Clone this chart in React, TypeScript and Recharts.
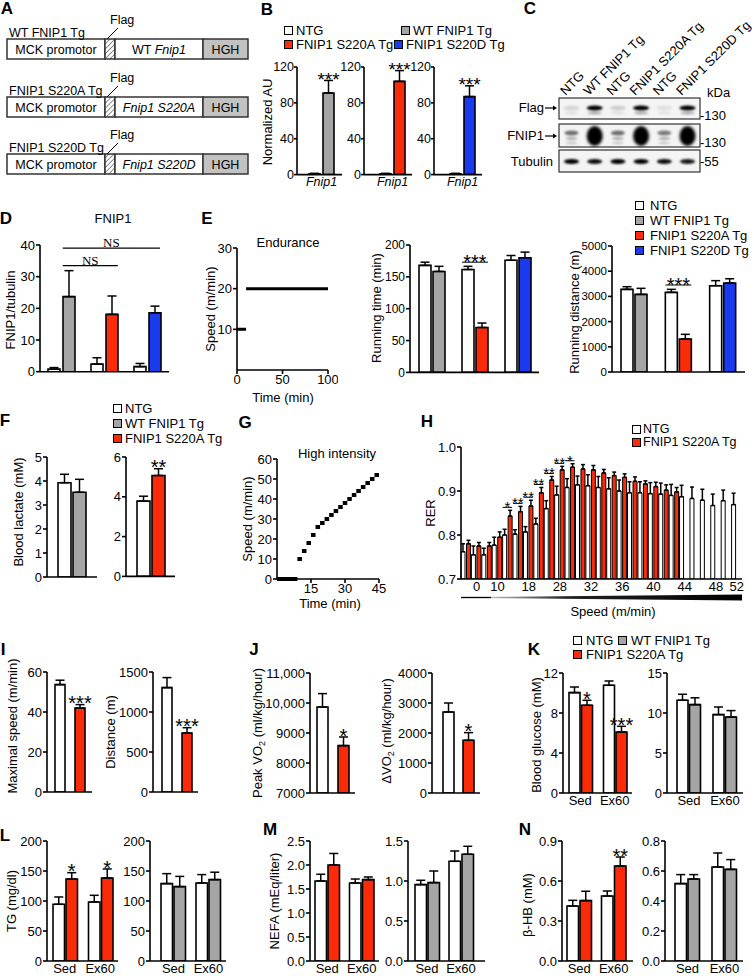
"use client"
import React from 'react'
import {
    BarChart,
    Bar,
    XAxis,
    YAxis,
    ErrorBar,
    Cell,
    LabelList,
    LineChart,
    Line,
    ReferenceLine
} from 'recharts'

const FONT = '"Liberation Sans", Arial, Helvetica, sans-serif'
const INK = '#000000'
const WHITE = '#ffffff'
const GRAY = '#a5a5a5'
const RED = '#fa2b08'
const BLUE = '#1a3af0'

// B - Fnip1 mRNA
const bNtg = [1, 1, 1]
const bNtgErr = [0.4, 0.4, 0.4]
const bTg = [91, 104, 87]
const bTgErr = [14, 12, 12]
const bTgColor = [GRAY, RED, BLUE]

// C - western blot lanes
const blotLanes = ['NTG', 'WT FNIP1 Tg', 'NTG', 'FNIP1 S220A Tg', 'NTG', 'FNIP1 S220D Tg']
const flagSignal = [0.12, 1, 0.15, 1, 0.08, 1]
const fnipSignal = [0.55, 1, 0.55, 1, 0.5, 1]
const tubSignal = [1, 0.95, 1, 1, 0.95, 0.9]

// D - FNIP1/tubulin
const dGroups = ['WT', 'S220A', 'S220D']
const dNtg = [0.8, 2.4, 1.6]
const dNtgErr = [0.5, 2.0, 1.0]
const dTg = [23.7, 18.1, 18.6]
const dTgErr = [8.2, 5.8, 2.1]
const dTgColor = [GRAY, RED, BLUE]
const dNsFrom = [0.53, 0.53]
const dNsTo = [2.79, 1.81]
const dNsAt = [39, 33.5]

// E - endurance
const enduranceStart = [0, 10]
const enduranceEnd = [10, 100]
const enduranceSpeed = [10, 20]
const eGroups = ['WT', 'S220A', 'S220D']
const eTgColor = [GRAY, RED, BLUE]
const eNtgTime = [168, 161.5, 176]
const eNtgTimeErr = [5, 5, 7.5]
const eTgTime = [158.5, 70.5, 180]
const eTgTimeErr = [8, 7, 8.8]
const eTimeStars = ['', '***', '']
const eTimeBar = [null, 173, null]
const eNtgDist = [3280, 3160, 3425]
const eNtgDistErr = [105, 120, 200]
const eTgDist = [3080, 1310, 3530]
const eTgDistErr = [240, 185, 170]
const eDistStars = ['', '***', '']
const eDistBar = [null, 3452, null]

// F - blood lactate
const fWtNtg = [3.93]
const fWtNtgErr = [0.35]
const fWt = [3.53]
const fWtErr = [0.54]
const fSaNtg = [3.78]
const fSaNtgErr = [0.25]
const fSa = [5.07]
const fSaErr = [0.34]

// G - high intensity protocol
const hiStart = [0, 9, 11, 13, 15, 17, 19, 21, 23, 25, 27, 29, 31, 33, 35, 37, 39, 41, 43]
const hiEnd = [9, 11, 13, 15, 17, 19, 21, 23, 25, 27, 29, 31, 33, 35, 37, 39, 41, 43, 45]
const hiSpeed = [0, 10, 14, 18, 22, 26, 28, 30, 32, 34, 36, 38, 40, 42, 44, 46, 48, 50, 52]

// H - RER
const hSpeedLabels = ['', '0', '', '10', '', '', '18', '', '', '28', '', '', '32', '', '', '36', '', '', '40', '', '', '44', '', '', '48', '', '52']
const hNtg = [0.762, 0.755, 0.755, 0.777, 0.8, 0.802, 0.807, 0.825, 0.86, 0.891, 0.908, 0.914, 0.912, 0.908, 0.905, 0.9, 0.896, 0.896, 0.894, 0.893, 0.89, 0.887, 0.883, 0.879, 0.867, 0.878, 0.869]
const hNtgErr = [0.018, 0.02, 0.015, 0.018, 0.013, 0.01, 0.012, 0.013, 0.018, 0.02, 0.02, 0.02, 0.025, 0.025, 0.025, 0.025, 0.025, 0.025, 0.025, 0.025, 0.025, 0.026, 0.026, 0.025, 0.026, 0.024, 0.026]
const hTg = [0.78, 0.775, 0.775, 0.795, 0.843, 0.853, 0.866, 0.896, 0.925, 0.948, 0.954, 0.95, 0.948, 0.941, 0.935, 0.931, 0.922, 0.916, 0.91, 0.902, 0.898, null, null, null, null, null, null]
const hTgErr = [0.008, 0.008, 0.008, 0.012, 0.013, 0.012, 0.013, 0.012, 0.008, 0.008, 0.008, 0.01, 0.01, 0.008, 0.008, 0.008, 0.01, 0.007, 0.01, 0.012, 0.01, 0, 0, 0, 0, 0, 0]
const hStars = ['', '', '', '', '*', '**', '**', '**', '**', '**', '*', '', '', '', '', '', '', '', '', '', '', '', '', '', '', '', '']

// I - maximal speed / distance
const iSpeed = [53.7, 42.0]
const iSpeedErr = [2.2, 1.7]
const iDist = [1305, 737]
const iDistErr = [125, 67]

// J - VO2
const jPeak = [9867, 8580]
const jPeakErr = [446, 287]
const jDelta = [2700, 1757]
const jDeltaErr = [300, 256]

// K-N - serum metabolites, sedentary vs 60 min exercise
const sedEx = ['Sed', 'Ex60']
const kSaNtg = [10.04, 10.77]
const kSaNtgErr = [0.56, 0.43]
const kSa = [8.77, 6.1]
const kSaErr = [0.5, 0.57]
const kSaStars = ['*', '***']
const kWtNtg = [11.6, 9.8]
const kWtNtgErr = [0.74, 0.95]
const kWt = [11.05, 9.5]
const kWtErr = [0.85, 0.8]

const lSaNtg = [94.5, 98.4]
const lSaNtgErr = [12.2, 11.1]
const lSa = [136.7, 138.4]
const lSaErr = [10.5, 15]
const lSaStars = ['*', '*']
const lWtNtg = [129, 130]
const lWtNtgErr = [16.6, 14]
const lWt = [124, 135.6]
const lWtErr = [17, 12.4]

const mSaNtg = [1.667, 1.625]
const mSaNtgErr = [0.14, 0.083]
const mSa = [2.0, 1.695]
const mSaErr = [0.24, 0.055]
const mWtNtg = [0.955, 1.246]
const mWtNtgErr = [0.054, 0.129]
const mWt = [0.98, 1.334]
const mWtErr = [0.145, 0.1]

const nSaNtg = [0.4125, 0.4875]
const nSaNtgErr = [0.0425, 0.0375]
const nSa = [0.453, 0.7125]
const nSaErr = [0.07, 0.0675]
const nSaStars = ['', '**']
const nWtNtg = [0.516, 0.627]
const nWtNtgErr = [0.06, 0.093]
const nWt = [0.547, 0.611]
const nWtErr = [0.029, 0.065]

interface Ser {
    key: string
    means: (number | null)[]
    errs: number[]
    fill: string | string[]
    stars?: string[]
    levels?: (number | null)[]
    line?: boolean
}

const sigContent = (s: Ser, lo: number, gap: number, fs: number) => (props: any) => {
    const i = props.index
    const txt = s.stars ? s.stars[i] : ''
    const m = s.means[i]
    if (!txt || m == null) return null
    const vb = props.viewBox && props.viewBox.width != null ? props.viewBox : props
    const { x, y, width, height } = vb
    if (!height) return null
    const ppu = height / (m - lo)
    const base = y + height
    const errTop = y - s.errs[i] * ppu
    if (s.line) {
        const lvl = s.levels ? s.levels[i] : null
        const ly = lvl != null ? base - (lvl - lo) * ppu : errTop - 3
        const xl = x - gap - width
        const xr = x + width
        return (
            <g key={`sig-${i}`}>
                <line x1={xl} x2={xr} y1={ly} y2={ly} stroke={INK} strokeWidth={1} />
                <text x={(xl + xr) / 2} y={ly + fs * 0.43 - 1.5} textAnchor="middle" fontSize={fs} fontFamily={FONT} fill={INK}>{txt}</text>
            </g>
        )
    }
    return (
        <text key={`sig-${i}`} x={x + width / 2} y={errTop + fs * 0.43 - 3} textAnchor="middle" fontSize={fs} fontFamily={FONT} fill={INK}>{txt}</text>
    )
}

interface BarPanelProps {
    ax: number
    x1: number
    yTop: number
    yBot: number
    lo?: number
    hi: number
    ticks: number[]
    fmt?: (v: number) => string
    cats: string[]
    series: Ser[]
    barSize: number
    barGap: number
    padL?: number
    padR?: number
    xLabels?: boolean
    italicX?: boolean
    xFmt?: (v: any, i: number) => string
    fs?: number
    starFs?: number
    errW?: number
    bsw?: number
    tsz?: number
    tmg?: number
    numAxis?: number
    children?: React.ReactNode
}

function BarPanel(p: BarPanelProps) {
    const lo = p.lo ?? 0
    const mt = 26
    const mr = 6
    const yw = 48
    const xh = p.xLabels ? 22 : 12
    const w = yw + (p.x1 - p.ax) + mr
    const h = mt + (p.yBot - p.yTop) + xh
    const fs = p.fs ?? 13
    const starFs = p.starFs ?? 20
    const data = p.cats.map((c, i) => {
        const row: Record<string, any> = { name: c, nx: i + 0.5 }
        p.series.forEach((s) => {
            row[s.key] = s.means[i]
            row[s.key + 'E'] = s.means[i] == null ? null : [0, s.errs[i]]
        })
        return row
    })
    return (
        <div style={{ position: 'absolute', left: p.ax - yw, top: p.yTop - mt }}>
            <BarChart width={w} height={h} data={data} margin={{ top: mt, right: mr, bottom: 0, left: 0 }} barSize={p.barSize} barGap={p.barGap}>
                <XAxis
                    dataKey="name"
                    height={xh}
                    interval={0}
                    axisLine={{ stroke: INK, strokeWidth: 1.6 }}
                    tickLine={false}
                    tickSize={0}
                    tickMargin={3}
                    tickFormatter={p.xFmt}
                    tick={p.xLabels ? { fontSize: fs, fill: INK, fontFamily: FONT, fontStyle: p.italicX ? 'italic' : 'normal' } : false}
                    padding={{ left: p.padL ?? 0, right: p.padR ?? 0 }}
                />
                {p.numAxis ? <XAxis xAxisId="n" type="number" dataKey="nx" domain={[0, p.numAxis]} hide allowDataOverflow /> : null}
                <YAxis
                    width={yw}
                    domain={[lo, p.hi]}
                    ticks={p.ticks}
                    interval={0}
                    allowDataOverflow
                    tickFormatter={p.fmt}
                    axisLine={{ stroke: INK, strokeWidth: 1.6 }}
                    tickLine={{ stroke: INK, strokeWidth: 1.6 }}
                    tickSize={p.tsz ?? 4}
                    tickMargin={p.tmg ?? 1}
                    tick={{ fontSize: fs, fill: INK, fontFamily: FONT }}
                />
                {p.series.map((s) => (
                    <Bar
                        key={s.key}
                        dataKey={s.key}
                        fill={Array.isArray(s.fill) ? s.fill[0] : s.fill}
                        stroke={INK}
                        strokeWidth={p.bsw ?? 1.6}
                        isAnimationActive={false}
                    >
                        {Array.isArray(s.fill) ? s.fill.map((c, i) => <Cell key={i} fill={c} />) : null}
                        <ErrorBar dataKey={s.key + 'E'} width={p.errW ?? 4.5} strokeWidth={1.5} stroke={INK} direction="y" />
                        {s.stars ? <LabelList dataKey={s.key} content={sigContent(s, lo, p.barGap, starFs)} /> : null}
                    </Bar>
                ))}
                {p.children}
            </BarChart>
        </div>
    )
}

interface StepPanelProps {
    ax: number
    x1: number
    yTop: number
    yBot: number
    xMax: number
    xTicks: number[]
    yMax: number
    yTicks: number[]
    starts: number[]
    ends: number[]
    speeds: number[]
    sw: number
    fs?: number
}

function StepPanel(p: StepPanelProps) {
    const mt = 10
    const mr = 10
    const yw = 40
    const xh = 22
    const fs = p.fs ?? 13
    const data: { t: number; v: number | null }[] = []
    p.speeds.forEach((v, i) => {
        data.push({ t: p.starts[i], v })
        data.push({ t: p.ends[i], v })
        data.push({ t: p.ends[i], v: null })
    })
    return (
        <div style={{ position: 'absolute', left: p.ax - yw, top: p.yTop - mt }}>
            <LineChart width={yw + (p.x1 - p.ax) + mr} height={mt + (p.yBot - p.yTop) + xh} data={data} margin={{ top: mt, right: mr, bottom: 0, left: 0 }}>
                <XAxis
                    type="number"
                    dataKey="t"
                    domain={[0, p.xMax]}
                    ticks={p.xTicks}
                    interval={0}
                    height={xh}
                    axisLine={{ stroke: INK, strokeWidth: 1.6 }}
                    tickLine={{ stroke: INK, strokeWidth: 1.6 }}
                    tickSize={4}
                    tickMargin={1}
                    tick={{ fontSize: fs, fill: INK, fontFamily: FONT }}
                />
                <YAxis
                    width={yw}
                    domain={[0, p.yMax]}
                    ticks={p.yTicks}
                    interval={0}
                    axisLine={{ stroke: INK, strokeWidth: 1.6 }}
                    tickLine={{ stroke: INK, strokeWidth: 1.6 }}
                    tickSize={4}
                    tickMargin={1}
                    tick={{ fontSize: fs, fill: INK, fontFamily: FONT }}
                />
                <Line dataKey="v" stroke={INK} strokeWidth={p.sw} dot={false} activeDot={false} connectNulls={false} isAnimationActive={false} />
            </LineChart>
        </div>
    )
}

function T({ x, y, children, size = 13, anchor = 'start', bold = false, italic = false }: any) {
    const tx = anchor === 'middle' ? '-50%' : anchor === 'end' ? '-100%' : '0'
    return (
        <div
            style={{
                position: 'absolute',
                left: x,
                top: y,
                transform: `translate(${tx},-50%)`,
                fontSize: size,
                lineHeight: 1,
                whiteSpace: 'nowrap',
                fontWeight: bold ? 700 : 400,
                fontStyle: italic ? 'italic' : 'normal'
            }}
        >
            {children}
        </div>
    )
}

function VL({ x, y, children, size = 13 }: any) {
    return (
        <div
            style={{
                position: 'absolute',
                left: x,
                top: y,
                transform: 'translate(-50%,-50%) rotate(-90deg)',
                fontSize: size,
                lineHeight: 1,
                whiteSpace: 'nowrap'
            }}
        >
            {children}
        </div>
    )
}

function Key({ x, y, color, label, gap = 12, size = 13 }: any) {
    return (
        <>
            <div style={{ position: 'absolute', left: x, top: y - 4.5, width: 7, height: 7, background: color, border: '1px solid #000' }} />
            <T x={x + gap} y={y} size={size}>{label}</T>
        </>
    )
}

const constructs = [
    { tg: 'WT FNIP1 Tg', pre: 'WT ', gene: 'Fnip1' },
    { tg: 'FNIP1 S220A Tg', pre: '', gene: 'Fnip1 S220A' },
    { tg: 'FNIP1 S220D Tg', pre: '', gene: 'Fnip1 S220D' }
]
const constructTop = [39, 97, 154]

function Overlay() {
    const laneX = (i: number) => 571.5 + 23.2 * i
    return (
        <svg width={754} height={976} style={{ position: 'absolute', left: 0, top: 0 }} fontFamily={FONT}>
            <defs>
                <pattern id="hatch" patternUnits="userSpaceOnUse" width={3.5} height={3.5} patternTransform="rotate(45)">
                    <rect width={3.5} height={3.5} fill="#fff" />
                    <line x1={0} y1={0} x2={0} y2={3.5} stroke="#777" strokeWidth={1.6} />
                </pattern>
                <filter id="blur1" x="-50%" y="-50%" width="200%" height="200%">
                    <feGaussianBlur stdDeviation={0.9} />
                </filter>
                <filter id="blur2" x="-50%" y="-50%" width="200%" height="200%">
                    <feGaussianBlur stdDeviation={1.4} />
                </filter>
                <linearGradient id="ramp" x1="0" x2="1" y1="0" y2="0">
                    <stop offset="0" stopColor="#bbb" />
                    <stop offset="0.3" stopColor="#222" />
                    <stop offset="1" stopColor="#000" />
                </linearGradient>
            </defs>

            {/* A: constructs */}
            {constructs.map((c, i) => {
                const t = constructTop[i]
                return (
                    <g key={i}>
                        <rect x={7} y={t} width={98} height={20} fill="#fff" stroke="#333" strokeWidth={1.5} />
                        <rect x={105} y={t} width={10} height={20} fill="url(#hatch)" stroke="#333" strokeWidth={1.5} />
                        <rect x={115} y={t} width={88} height={20} fill="#fff" stroke="#333" strokeWidth={1.5} />
                        <rect x={203} y={t} width={45} height={20} fill="#c2c2c2" stroke="#333" strokeWidth={1.5} />
                        <text x={56} y={t + 14.5} textAnchor="middle" fontSize={12.5}>MCK promotor</text>
                        <text x={159} y={t + 14.5} textAnchor="middle" fontSize={12.5}>
                            {c.pre}
                            <tspan fontStyle="italic">{c.gene}</tspan>
                        </text>
                        <text x={225.5} y={t + 14.5} textAnchor="middle" fontSize={12.5}>HGH</text>
                        <text x={9} y={t - 2} fontSize={12.5}>{c.tg}</text>
                        <line x1={107} y1={t} x2={118} y2={t - 11} stroke="#000" strokeWidth={1} />
                        <text x={110} y={t - 15} fontSize={12.5}>Flag</text>
                    </g>
                )
            })}

            {/* C: western blot */}
            {blotLanes.map((lab, i) => (
                <text key={lab + i} x={laneX(i) - 6} y={96} fontSize={13} transform={`rotate(-45 ${laneX(i) - 6} 96)`}>{lab}</text>
            ))}
            <rect x={559} y={98} width={141} height={21} fill="#f4f4f4" stroke="#333" strokeWidth={1.2} />
            <rect x={559} y={124} width={141} height={23} fill="#f4f4f4" stroke="#333" strokeWidth={1.2} />
            <rect x={559} y={150} width={141} height={22} fill="#f4f4f4" stroke="#333" strokeWidth={1.2} />
            {blotLanes.map((_, i) => {
                const cx = laneX(i)
                const strong = fnipSignal[i] > 0.9
                return (
                    <g key={'band' + i}>
                        <ellipse cx={cx} cy={108} rx={8} ry={2.6} fill="#000" opacity={flagSignal[i]} filter="url(#blur1)" />
                        <ellipse cx={cx} cy={113} rx={7} ry={1.4} fill="#000" opacity={0.25 * flagSignal[i] + 0.05} filter="url(#blur1)" />
                        {strong ? (
                            <ellipse cx={cx} cy={136} rx={8} ry={10} fill="#000" filter="url(#blur2)" />
                        ) : (
                            <>
                                <ellipse cx={cx} cy={133} rx={7} ry={2.4} fill="#000" opacity={fnipSignal[i]} filter="url(#blur1)" />
                                <ellipse cx={cx} cy={138.5} rx={6} ry={1.4} fill="#000" opacity={0.3} filter="url(#blur1)" />
                                <ellipse cx={cx} cy={143} rx={6} ry={1.2} fill="#000" opacity={0.2} filter="url(#blur1)" />
                            </>
                        )}
                        <ellipse cx={cx} cy={161.5} rx={7.5} ry={2.6} fill="#000" opacity={tubSignal[i]} filter="url(#blur1)" />
                    </g>
                )
            })}
            <text x={544} y={112} fontSize={13} textAnchor="end">Flag</text>
            <line x1={545} x2={553} y1={108} y2={108} stroke="#000" strokeWidth={1.2} />
            <polygon points="553,105.5 557,108 553,110.5" fill="#000" />
            <text x={544} y={140} fontSize={13} textAnchor="end">FNIP1</text>
            <line x1={545} x2={553} y1={136} y2={136} stroke="#000" strokeWidth={1.2} />
            <polygon points="553,133.5 557,136 553,138.5" fill="#000" />
            <text x={553} y={166} fontSize={13} textAnchor="end">Tubulin</text>
            <text x={707} y={97} fontSize={13}>kDa</text>
            <text x={700} y={120} fontSize={13}>-130</text>
            <text x={700} y={147} fontSize={13}>-130</text>
            <text x={700} y={166} fontSize={13}>-55</text>

            {/* H: speed ramp under the axis */}
            <line x1={461} x2={491} y1={597.5} y2={597.5} stroke="#000" strokeWidth={1.3} />
            <polygon points="491,596.8 742,594.5 742,600.5 491,598.2" fill="url(#ramp)" />
        </svg>
    )
}

const mk = (key: string, means: (number | null)[], errs: number[], fill: string | string[], extra: Partial<Ser> = {}): Ser => ({ key, means, errs, fill, ...extra })

const fmt1 = (v: number) => v.toFixed(1)
const fmtK = (v: number) => (v >= 10000 ? v.toLocaleString('en-US') : String(v))

export default function App() {
    return (
        <div style={{ position: 'absolute', left: 0, top: 0, width: 754, height: 976, background: '#fff', fontFamily: FONT, color: '#000', overflow: 'hidden' }}>
            <Overlay />

            {/* panel letters */}
            <T x={7} y={8} size={17} bold anchor="middle">A</T>
            <T x={267} y={9} size={17} bold anchor="middle">B</T>
            <T x={530} y={8} size={17} bold anchor="middle">C</T>
            <T x={6} y={218} size={17} bold anchor="middle">D</T>
            <T x={207} y={218} size={17} bold anchor="middle">E</T>
            <T x={5} y={420} size={17} bold anchor="middle">F</T>
            <T x={245} y={422} size={17} bold anchor="middle">G</T>
            <T x={427} y={421} size={17} bold anchor="middle">H</T>
            <T x={3} y={649} size={17} bold anchor="middle">I</T>
            <T x={254} y={649} size={17} bold anchor="middle">J</T>
            <T x={534} y={649} size={17} bold anchor="middle">K</T>
            <T x={5} y={835} size={17} bold anchor="middle">L</T>
            <T x={270} y={829} size={17} bold anchor="middle">M</T>
            <T x={525} y={829} size={17} bold anchor="middle">N</T>

            {/* B */}
            <Key x={284} y={30} color={WHITE} label="NTG" />
            <Key x={401} y={30} color={GRAY} label="WT FNIP1 Tg" />
            <Key x={284} y={44} color={RED} label="FNIP1 S220A Tg" />
            <Key x={394} y={44} color={BLUE} label="FNIP1 S220D Tg" />
            <VL x={267} y={122}>Normalized AU</VL>
            {[0, 1, 2].map((i) => (
                <BarPanel
                    key={'b' + i}
                    ax={[297, 364, 434][i]}
                    x1={[342, 412, 482][i]}
                    padL={[4, 9, 9][i]}
                    yTop={66.7}
                    yBot={174.3}
                    hi={120}
                    ticks={[0, 40, 80, 120]}
                    fs={12.5}
                    tsz={3}
                    tmg={0}
                    starFs={19}
                    cats={['Fnip1']}
                    barSize={11}
                    barGap={3}
                    xLabels
                    italicX
                    series={[
                        mk('ntg', [bNtg[i]], [bNtgErr[i]], WHITE),
                        mk('tg', [bTg[i]], [bTgErr[i]], bTgColor[i], { stars: ['***'] })
                    ]}
                />
            ))}

            {/* D */}
            <T x={113} y={218} anchor="middle">FNIP1</T>
            <VL x={10} y={310}>FNIP1/tubulin</VL>
            <BarPanel
                ax={40}
                x1={169}
                yTop={245}
                yBot={371.7}
                hi={40}
                ticks={[0, 10, 20, 30, 40]}
                cats={dGroups}
                barSize={12}
                barGap={3}
                numAxis={3}
                series={[mk('ntg', dNtg, dNtgErr, WHITE), mk('tg', dTg, dTgErr, dTgColor)]}
            >
                {dNsAt.map((yv, i) => (
                    <ReferenceLine
                        key={'ns' + i}
                        xAxisId="n"
                        segment={[{ x: dNsFrom[i], y: yv }, { x: dNsTo[i], y: yv }]}
                        stroke={INK}
                        strokeWidth={1.2}
                        ifOverflow="visible"
                        label={{ value: 'NS', position: 'top', fill: INK, fontSize: 13, fontFamily: '"Liberation Serif", serif', offset: 1 }}
                    />
                ))}
            </BarPanel>

            {/* E */}
            <T x={288} y={242} anchor="middle">Endurance</T>
            <VL x={210} y={309}>Speed (m/min)</VL>
            <StepPanel ax={237} x1={328} yTop={248} yBot={370} xMax={100} xTicks={[0, 50, 100]} yMax={30} yTicks={[10, 20, 30]} starts={enduranceStart} ends={enduranceEnd} speeds={enduranceSpeed} sw={3} />
            <T x={283} y={397} anchor="middle">Time (min)</T>
            <VL x={376} y={308}>Running time (min)</VL>
            <BarPanel
                ax={410}
                x1={539}
                yTop={245}
                yBot={372.4}
                hi={200}
                ticks={[0, 50, 100, 150, 200]}
                fs={12}
                cats={eGroups}
                barSize={12}
                barGap={2}
                series={[
                    mk('ntg', eNtgTime, eNtgTimeErr, WHITE),
                    mk('tg', eTgTime, eTgTimeErr, eTgColor, { stars: eTimeStars, levels: eTimeBar, line: true })
                ]}
            />
            <VL x={574} y={312}>Running distance (m)</VL>
            <BarPanel
                ax={612}
                x1={745}
                yTop={246}
                yBot={372}
                hi={5000}
                ticks={[0, 1000, 2000, 3000, 4000, 5000]}
                fs={11.5}
                cats={eGroups}
                barSize={12}
                barGap={2}
                series={[
                    mk('ntg', eNtgDist, eNtgDistErr, WHITE),
                    mk('tg', eTgDist, eTgDistErr, eTgColor, { stars: eDistStars, levels: eDistBar, line: true })
                ]}
            />
            <Key x={635} y={205} color={WHITE} label="NTG" gap={15} />
            <Key x={635} y={220} color={GRAY} label="WT FNIP1 Tg" gap={15} />
            <Key x={635} y={235} color={RED} label="FNIP1 S220A Tg" gap={15} />
            <Key x={635} y={250} color={BLUE} label="FNIP1 S220D Tg" gap={15} />

            {/* F */}
            <Key x={113} y={408} color={WHITE} label="NTG" />
            <Key x={113} y={423} color={GRAY} label="WT FNIP1 Tg" />
            <Key x={113} y={438} color={RED} label="FNIP1 S220A Tg" />
            <VL x={18} y={512}>Blood lactate (mM)</VL>
            <BarPanel
                ax={47}
                x1={97}
                yTop={457}
                yBot={577}
                hi={5}
                ticks={[0, 1, 2, 3, 4, 5]}
                cats={['lactate']}
                barSize={13}
                barGap={2}
                series={[mk('ntg', fWtNtg, fWtNtgErr, WHITE), mk('tg', fWt, fWtErr, GRAY)]}
            />
            <BarPanel
                ax={126}
                x1={175}
                yTop={457.3}
                yBot={576.7}
                hi={6}
                ticks={[0, 2, 4, 6]}
                cats={['lactate']}
                barSize={13}
                barGap={2}
                series={[mk('ntg', fSaNtg, fSaNtgErr, WHITE), mk('tg', fSa, fSaErr, RED, { stars: ['**'] })]}
            />

            {/* G */}
            <T x={337} y={453} anchor="middle">High intensity</T>
            <VL x={247} y={519}>Speed (m/min)</VL>
            <StepPanel ax={277} x1={379} yTop={459} yBot={579} xMax={45} xTicks={[15, 30, 45]} yMax={60} yTicks={[0, 10, 20, 30, 40, 50, 60]} starts={hiStart} ends={hiEnd} speeds={hiSpeed} sw={4} />
            <T x={330} y={603} anchor="middle">Time (min)</T>

            {/* H */}
            <Key x={632} y={429} color={WHITE} label="NTG" gap={11} size={12.5} />
            <Key x={632} y={442} color={RED} label="FNIP1 S220A Tg" gap={11} size={12.5} />
            <VL x={430} y={513}>RER</VL>
            <BarPanel
                ax={461}
                x1={742}
                yTop={447.3}
                yBot={579.3}
                lo={0.7}
                hi={1.0}
                ticks={[0.7, 0.8, 0.9, 1.0]}
                fmt={fmt1}
                cats={hNtg.map((_, i) => String(i))}
                xLabels
                xFmt={(_v: any, i: number) => hSpeedLabels[i]}
                barSize={4}
                barGap={1.5}
                bsw={1}
                errW={2}
                starFs={15}
                series={[
                    mk('ntg', hNtg, hNtgErr, WHITE),
                    mk('tg', hTg, hTgErr, RED, { stars: hStars, line: true })
                ]}
            />
            <T x={613} y={611} anchor="middle">Speed (m/min)</T>

            {/* I */}
            <VL x={12} y={726}>Maximal speed (m/min)</VL>
            <BarPanel
                ax={47}
                x1={92}
                yTop={671.7}
                yBot={791.7}
                hi={60}
                ticks={[0, 20, 40, 60]}
                cats={['speed']}
                barSize={10}
                barGap={10}
                series={[mk('ntg', [iSpeed[0]], [iSpeedErr[0]], WHITE), mk('tg', [iSpeed[1]], [iSpeedErr[1]], RED, { stars: ['***'] })]}
            />
            <VL x={110} y={732}>Distance (m)</VL>
            <BarPanel
                ax={153}
                x1={198}
                padL={2}
                yTop={671.7}
                yBot={791.7}
                hi={1500}
                ticks={[0, 500, 1000, 1500]}
                cats={['distance']}
                barSize={10}
                barGap={10}
                series={[mk('ntg', [iDist[0]], [iDistErr[0]], WHITE), mk('tg', [iDist[1]], [iDistErr[1]], RED, { stars: ['***'] })]}
            />

            {/* J */}
            <VL x={259} y={733}>Peak VO<sub style={{ fontSize: 9 }}>2</sub> (ml/kg/hour)</VL>
            <BarPanel
                ax={310}
                x1={355}
                yTop={672.7}
                yBot={792.7}
                lo={7000}
                hi={11000}
                ticks={[7000, 8000, 9000, 10000, 11000]}
                fmt={fmtK}
                cats={['peak']}
                barSize={11}
                barGap={10}
                series={[mk('ntg', [jPeak[0]], [jPeakErr[0]], WHITE), mk('tg', [jPeak[1]], [jPeakErr[1]], RED, { stars: ['*'] })]}
            />
            <VL x={388} y={731}>ΔVO<sub style={{ fontSize: 9 }}>2</sub> (ml/kg/hour)</VL>
            <BarPanel
                ax={432}
                x1={480}
                padL={4}
                yTop={672.7}
                yBot={792.7}
                hi={4000}
                ticks={[0, 1000, 2000, 3000, 4000]}
                cats={['delta']}
                barSize={11}
                barGap={9}
                series={[mk('ntg', [jDelta[0]], [jDeltaErr[0]], WHITE), mk('tg', [jDelta[1]], [jDeltaErr[1]], RED, { stars: ['*'] })]}
            />

            {/* K */}
            <Key x={573} y={640} color={WHITE} label="NTG" gap={13} />
            <Key x={618} y={640} color={GRAY} label="WT FNIP1 Tg" gap={13} />
            <Key x={573} y={654} color={RED} label="FNIP1 S220A Tg" gap={13} />
            <VL x={536} y={735}>Blood glucose (mM)</VL>
            <BarPanel
                ax={563}
                x1={632}
                yTop={672.7}
                yBot={792.7}
                hi={12}
                ticks={[0, 4, 8, 12]}
                cats={sedEx}
                xLabels
                barSize={11}
                barGap={1.5}
                series={[mk('ntg', kSaNtg, kSaNtgErr, WHITE), mk('tg', kSa, kSaErr, RED, { stars: kSaStars })]}
            />
            <BarPanel
                ax={667}
                x1={743}
                padL={4}
                yTop={672.7}
                yBot={792.7}
                hi={15}
                ticks={[0, 5, 10, 15]}
                cats={sedEx}
                xLabels
                barSize={11}
                barGap={1.5}
                series={[mk('ntg', kWtNtg, kWtNtgErr, WHITE), mk('tg', kWt, kWtErr, GRAY)]}
            />

            {/* L */}
            <VL x={11} y={901}>TG (mg/dl)</VL>
            <BarPanel
                ax={47}
                x1={118}
                yTop={840.7}
                yBot={960.7}
                hi={200}
                ticks={[0, 50, 100, 150, 200]}
                cats={sedEx}
                xLabels
                barSize={11.5}
                barGap={1.5}
                series={[mk('ntg', lSaNtg, lSaNtgErr, WHITE), mk('tg', lSa, lSaErr, RED, { stars: lSaStars })]}
            />
            <BarPanel
                ax={150}
                x1={226}
                padL={6}
                yTop={840.7}
                yBot={960.7}
                hi={200}
                ticks={[0, 50, 100, 150, 200]}
                cats={sedEx}
                xLabels
                barSize={11.5}
                barGap={1.5}
                series={[mk('ntg', lWtNtg, lWtNtgErr, WHITE), mk('tg', lWt, lWtErr, GRAY)]}
            />

            {/* M */}
            <VL x={274} y={901}>NEFA (mEq/liter)</VL>
            <BarPanel
                ax={310}
                x1={379}
                yTop={840.7}
                yBot={960.7}
                hi={2.5}
                ticks={[0, 0.5, 1.0, 1.5, 2.0, 2.5]}
                fmt={fmt1}
                cats={sedEx}
                xLabels
                barSize={11.5}
                barGap={1.5}
                series={[mk('ntg', mSaNtg, mSaNtgErr, WHITE), mk('tg', mSa, mSaErr, RED)]}
            />
            <BarPanel
                ax={408}
                x1={485}
                padL={2}
                padR={7}
                yTop={840.7}
                yBot={960.7}
                hi={1.5}
                ticks={[0, 0.5, 1.0, 1.5]}
                fmt={fmt1}
                cats={sedEx}
                xLabels
                barSize={11.5}
                barGap={1.5}
                series={[mk('ntg', mWtNtg, mWtNtgErr, WHITE), mk('tg', mWt, mWtErr, GRAY)]}
            />

            {/* N */}
            <VL x={527} y={905}>β-HB (mM)</VL>
            <BarPanel
                ax={562}
                x1={633}
                padR={2}
                yTop={840.7}
                yBot={960.7}
                hi={0.9}
                ticks={[0, 0.3, 0.6, 0.9]}
                fmt={fmt1}
                cats={sedEx}
                xLabels
                barSize={11.5}
                barGap={1.5}
                series={[mk('ntg', nSaNtg, nSaNtgErr, WHITE), mk('tg', nSa, nSaErr, RED, { stars: nSaStars })]}
            />
            <BarPanel
                ax={665}
                x1={743}
                padL={4}
                yTop={840.7}
                yBot={960.7}
                hi={0.8}
                ticks={[0, 0.2, 0.4, 0.6, 0.8]}
                fmt={fmt1}
                cats={sedEx}
                xLabels
                barSize={11.5}
                barGap={1.5}
                series={[mk('ntg', nWtNtg, nWtNtgErr, WHITE), mk('tg', nWt, nWtErr, GRAY)]}
            />
        </div>
    )
}
